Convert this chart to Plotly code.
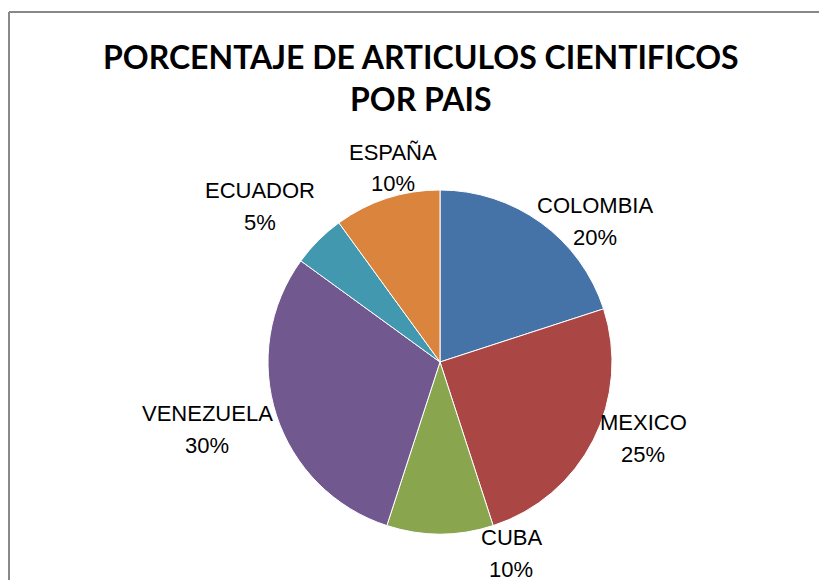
import plotly.graph_objects as go

countries = ["COLOMBIA", "MEXICO", "CUBA", "VENEZUELA", "ECUADOR", "ESPAÑA"]
shares = [20, 25, 10, 30, 5, 10]
colors = ["#4572A7", "#AA4643", "#89A54E", "#71588F", "#4198AF", "#DB843D"]

W, H = 819, 580
cx, cy, r = 440, 362, 172

# label block centres (pixels from top-left), Excel "best fit" placement
label_pos = [(595, 221), (643, 438), (511, 553), (207, 429), (260, 206), (393, 168)]
line_gap = 16

fig = go.Figure(go.Pie(
    labels=countries,
    values=shares,
    sort=False,
    direction="clockwise",
    rotation=0,
    marker=dict(colors=colors, line=dict(color="white", width=1)),
    textinfo="none",
    showlegend=False,
    hoverinfo="label+percent",
    domain=dict(x=[(cx - r) / W, (cx + r) / W], y=[(H - cy - r) / H, (H - cy + r) / H]),
))

total = sum(shares)
annotations = [dict(
    text="<b>PORCENTAJE DE ARTICULOS CIENTIFICOS<br>POR PAIS</b>",
    xref="paper", yref="paper",
    x=421 / W, xanchor="center",
    y=1 - 35 / H, yanchor="top",
    showarrow=False,
    font=dict(family="Lato", size=32, color="black"),
)]
label_font = dict(family="Liberation Sans", size=22, color="black")
for name, val, (px, py) in zip(countries, shares, label_pos):
    pct = f"{round(100 * val / total)}%"
    for txt, dy in ((name, -line_gap), (pct, line_gap)):
        annotations.append(dict(
            text=txt, xref="paper", yref="paper",
            x=px / W, y=1 - (py + dy) / H,
            xanchor="center", yanchor="middle",
            showarrow=False, font=label_font,
        ))

fig.update_layout(
    width=W, height=H,
    margin=dict(l=0, r=0, t=0, b=0),
    paper_bgcolor="white",
    annotations=annotations,
    shapes=[
        dict(type="line", xref="paper", yref="paper", x0=9 / W, x1=1.0, y0=1 - 12 / H, y1=1 - 12 / H,
             line=dict(color="#888888", width=2)),
        dict(type="line", xref="paper", yref="paper", x0=9 / W, x1=9 / W, y0=0, y1=1 - 12 / H,
             line=dict(color="#888888", width=2)),
    ],
)

fig.write_html("out.html", config={"displayModeBar": False},
               post_script="document.body.style.margin='0';")
